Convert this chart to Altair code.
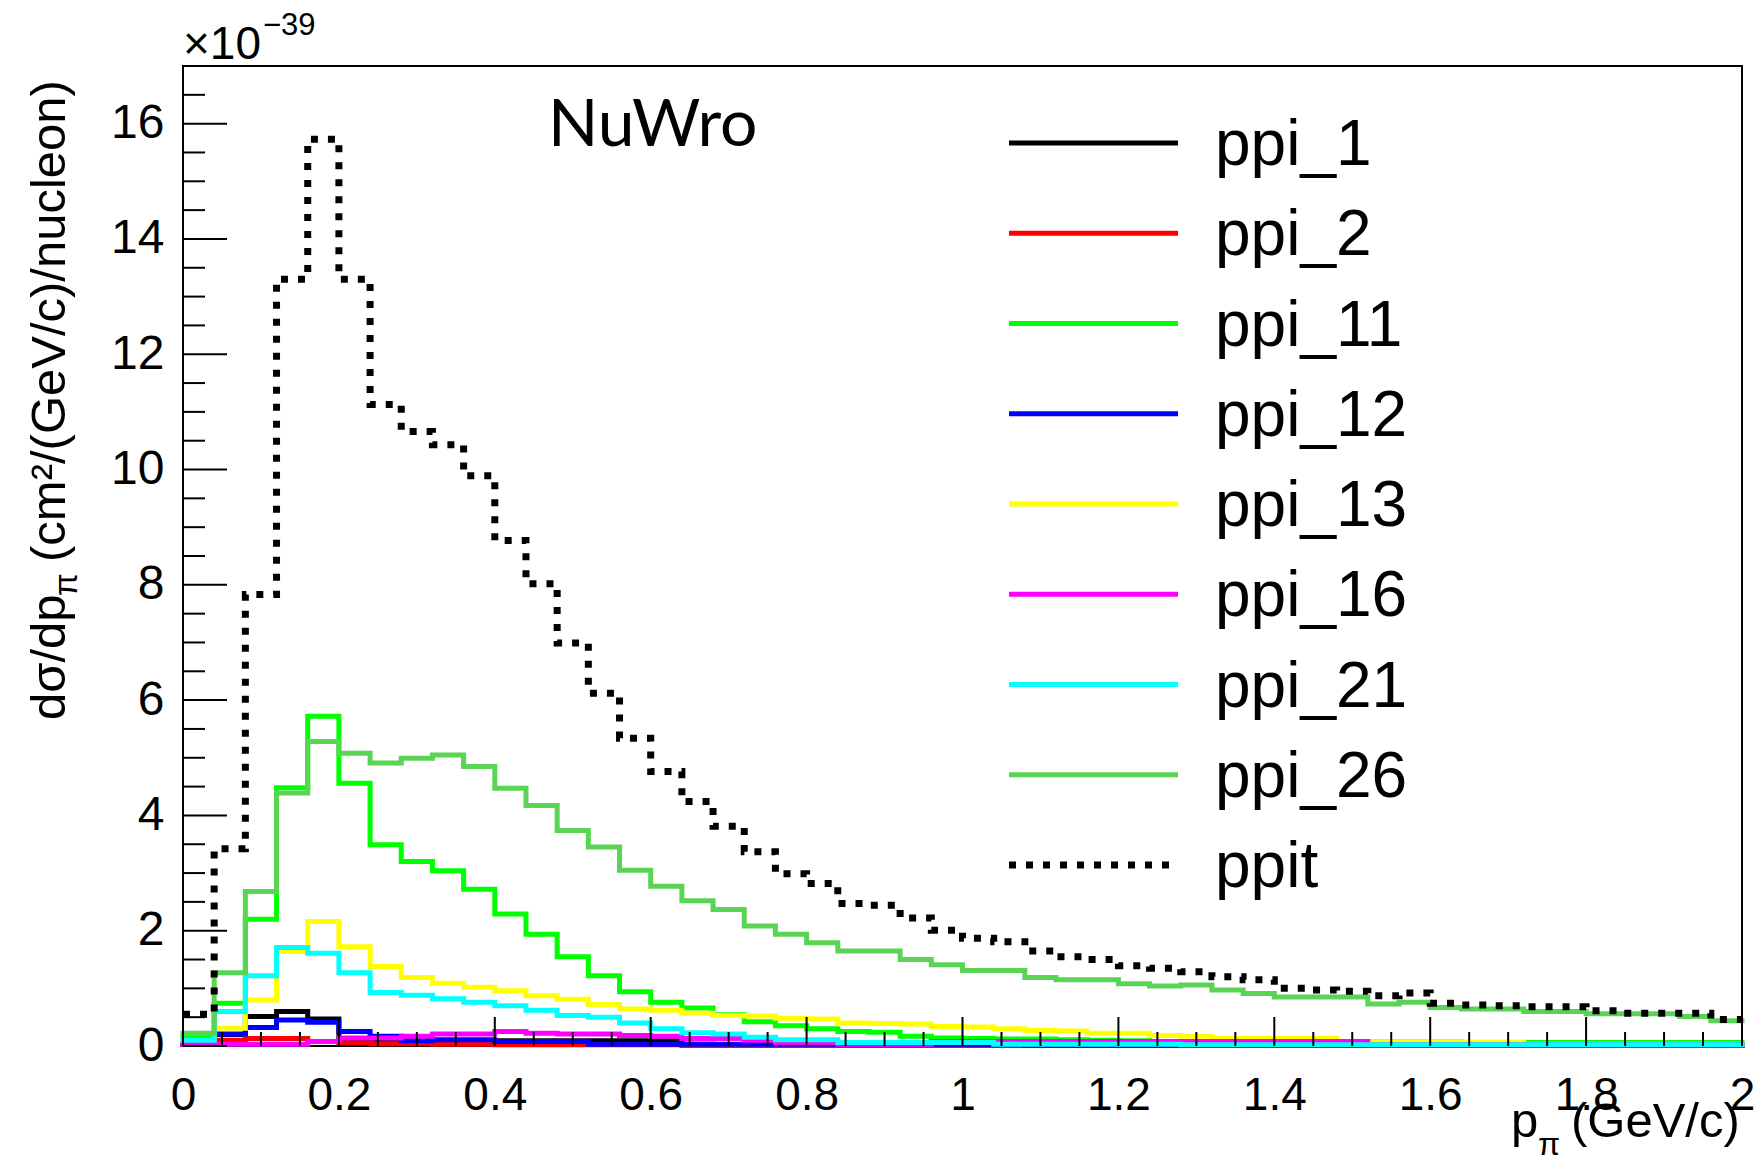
import altair as alt
import pandas as pd

# ---------------- data ----------------
BIN_W = 0.04
N_BINS = 50
edges = [round(i * BIN_W, 2) for i in range(N_BINS + 1)]

series_names = ["ppi_1", "ppi_2", "ppi_11", "ppi_12", "ppi_13", "ppi_16", "ppi_21", "ppi_26", "ppit"]
series_colors = ["#000000", "#ff0000", "#00ff00", "#0000ff", "#ffff00", "#ff00ff", "#00ffff", "#59d454", "#000000"]

ppi_1 = [0.03, 0.20, 0.51, 0.60, 0.47, 0.10, 0.10, 0.09, 0.09, 0.09, 0.09, 0.09, 0.09, 0.09, 0.09, 0.09,
         0.03, 0.02, 0.02, 0.02, 0.02, 0.01, 0.01, 0.01, 0.01, 0.01, 0.01, 0.01, 0.01, 0.01, 0.01, 0.01,
         0.01, 0.01, 0.01, 0.01, 0.01, 0.01, 0.01, 0.01, 0.01, 0.01, 0.01, 0.01, 0.01, 0.01, 0.01, 0.01, 0.01, 0.01]
ppi_2 = [0.03, 0.10, 0.13, 0.13, 0.08, 0.05, 0.04, 0.04, 0.03, 0.03, 0.02, 0.02, 0.02, 0.02, 0.02, 0.02,
         0.01, 0.01, 0.01, 0.01, 0.01, 0.01, 0.01, 0.01, 0.01, 0.01, 0.01, 0.01, 0.01, 0.01, 0.01, 0.01,
         0.01, 0.01, 0.01, 0.01, 0.01, 0.01, 0.01, 0.01, 0.01, 0.01, 0.01, 0.01, 0.01, 0.01, 0.01, 0.01, 0.01, 0.01]
ppi_11 = [0.15, 0.74, 2.20, 4.48, 5.72, 4.56, 3.49, 3.20, 3.04, 2.72, 2.29, 1.94, 1.55, 1.22, 0.94, 0.76,
          0.66, 0.54, 0.42, 0.35, 0.30, 0.25, 0.24, 0.17, 0.14, 0.13, 0.12, 0.12, 0.11, 0.10, 0.09, 0.08,
          0.08, 0.08, 0.07, 0.07, 0.07, 0.07, 0.07, 0.07, 0.07, 0.06, 0.06, 0.06, 0.06, 0.06, 0.06, 0.06, 0.06, 0.06]
ppi_12 = [0.03, 0.21, 0.32, 0.45, 0.41, 0.25, 0.17, 0.09, 0.11, 0.11, 0.08, 0.08, 0.08, 0.03, 0.03, 0.03,
          0.03, 0.03, 0.03, 0.03, 0.03, 0.03, 0.03, 0.03, 0.03, 0.03, 0.02, 0.01, 0.01, 0.01, 0.01, 0.01,
          0.01, 0.01, 0.01, 0.01, 0.01, 0.01, 0.01, 0.01, 0.01, 0.01, 0.01, 0.01, 0.01, 0.01, 0.01, 0.01, 0.01, 0.01]
ppi_13 = [0.08, 0.31, 0.80, 1.64, 2.16, 1.72, 1.38, 1.19, 1.09, 1.02, 0.96, 0.87, 0.81, 0.72, 0.64, 0.62,
          0.57, 0.53, 0.52, 0.48, 0.47, 0.40, 0.39, 0.38, 0.34, 0.33, 0.30, 0.27, 0.26, 0.22, 0.22, 0.18,
          0.17, 0.13, 0.13, 0.13, 0.13, 0.07, 0.07, 0.07, 0.07, 0.07, 0.07, 0.03, 0.03, 0.03, 0.03, 0.03, 0.03, 0.03]
ppi_16 = [0.03, 0.03, 0.03, 0.03, 0.08, 0.14, 0.14, 0.17, 0.21, 0.21, 0.25, 0.22, 0.21, 0.21, 0.18, 0.17,
          0.13, 0.13, 0.10, 0.06, 0.06, 0.03, 0.03, 0.03, 0.08, 0.08, 0.08, 0.08, 0.08, 0.08, 0.08, 0.08,
          0.08, 0.08, 0.08, 0.08, 0.08, 0.08, 0.02, 0.02, 0.02, 0.02, 0.02, 0.02, 0.02, 0.02, 0.02, 0.02, 0.02, 0.02]
ppi_21 = [0.10, 0.60, 1.22, 1.71, 1.61, 1.27, 0.93, 0.88, 0.82, 0.76, 0.70, 0.62, 0.53, 0.50, 0.40, 0.30,
          0.23, 0.21, 0.15, 0.11, 0.11, 0.06, 0.06, 0.06, 0.06, 0.06, 0.03, 0.03, 0.03, 0.03, 0.03, 0.03,
          0.02, 0.02, 0.02, 0.02, 0.02, 0.02, 0.02, 0.02, 0.02, 0.02, 0.02, 0.02, 0.02, 0.02, 0.02, 0.02, 0.02, 0.02]
ppi_26 = [0.22, 1.27, 2.68, 4.39, 5.28, 5.08, 4.91, 4.99, 5.05, 4.85, 4.47, 4.17, 3.74, 3.45, 3.05, 2.77,
          2.52, 2.37, 2.08, 1.94, 1.79, 1.65, 1.65, 1.50, 1.41, 1.31, 1.31, 1.19, 1.15, 1.15, 1.08, 1.04,
          1.06, 0.97, 0.91, 0.85, 0.85, 0.85, 0.73, 0.76, 0.67, 0.64, 0.64, 0.60, 0.60, 0.56, 0.56, 0.56, 0.51, 0.44]
ppit = [0.55, 3.42, 7.83, 13.30, 15.73, 13.30, 11.13, 10.66, 10.43, 9.89, 8.77, 8.02, 6.99, 6.12, 5.34, 4.76,
        4.24, 3.81, 3.37, 2.99, 2.82, 2.47, 2.44, 2.22, 2.01, 1.87, 1.81, 1.65, 1.55, 1.50, 1.39, 1.35,
        1.29, 1.20, 1.15, 1.00, 0.97, 0.95, 0.87, 0.92, 0.74, 0.71, 0.70, 0.68, 0.68, 0.61, 0.57, 0.57, 0.57, 0.46]

series_values = [ppi_1, ppi_2, ppi_11, ppi_12, ppi_13, ppi_16, ppi_21, ppi_26, ppit]

x_tick_labels = [0, 0.2, 0.4, 0.6, 0.8, 1, 1.2, 1.4, 1.6, 1.8, 2]
y_tick_labels = [0, 2, 4, 6, 8, 10, 12, 14, 16]

# ---------------- geometry / style ----------------
W, H = 1559, 980
XMAX, YMAX = 2.0, 17.0
FONT = "Liberation Sans"

xscale = alt.Scale(domain=[0, XMAX], nice=False, zero=False)
yscale = alt.Scale(domain=[0, YMAX], nice=False, zero=True)

xaxis = alt.Axis(values=x_tick_labels, format="~g", labelFont=FONT, labelFontSize=46,
                 labelColor="black", labelPadding=27, ticks=False, tickSize=0, domain=False,
                 grid=False, labelFlush=False, labelOverlap=False, labelBound=False,
                 labelBaseline="top", title=None)
yaxis = alt.Axis(values=y_tick_labels, format="d", labelFont=FONT, labelFontSize=48,
                 labelColor="black", labelPadding=19, ticks=False, tickSize=0, domain=False,
                 grid=False, labelOverlap=False, labelBaseline="middle", title=None)

X = alt.X("x:Q", scale=xscale, axis=xaxis)
Y = alt.Y("v:Q", scale=yscale, axis=yaxis)

layers = []

# histogram outlines
for name, color, vals in zip(series_names, series_colors, series_values):
    df = pd.DataFrame({"x": edges, "v": list(vals) + [vals[-1]], "series": name})
    if name == "ppit":
        m = alt.Chart(df).mark_line(interpolate="step-after", color=color, strokeWidth=7,
                                    strokeDash=[7, 10], strokeCap="butt")
    else:
        m = alt.Chart(df).mark_line(interpolate="step-after", color=color, strokeWidth=5,
                                    strokeCap="square")
    layers.append(m.encode(x=X, y=Y))

# inward ticks (ROOT style)
y_major = [float(v) for v in range(0, 17, 2)]
y_minor = [i * 0.5 for i in range(0, 35) if (i * 0.5) % 2 != 0]
x_major = [round(i * 0.2, 2) for i in range(0, 11)]
x_minor = [round(i * 0.05, 2) for i in range(0, 41) if i % 4 != 0]

layers.append(alt.Chart(pd.DataFrame({"v": y_major})).mark_rule(color="black", strokeWidth=2)
              .encode(y=Y, x=alt.value(0), x2=alt.value(44)))
layers.append(alt.Chart(pd.DataFrame({"v": y_minor})).mark_rule(color="black", strokeWidth=2)
              .encode(y=Y, x=alt.value(0), x2=alt.value(22)))
layers.append(alt.Chart(pd.DataFrame({"x": x_major})).mark_rule(color="black", strokeWidth=2)
              .encode(x=X, y=alt.value(H), y2=alt.value(H - 29)))
layers.append(alt.Chart(pd.DataFrame({"x": x_minor})).mark_rule(color="black", strokeWidth=2)
              .encode(x=X, y=alt.value(H), y2=alt.value(H - 14)))

dummy = pd.DataFrame({"a": [0]})


def label(text, x, y, size, font=FONT, align="left", baseline="alphabetic", angle=0):
    kw = dict(text=text, font=font, fontSize=size, align=align, baseline=baseline, color="black")
    if angle:
        kw["angle"] = angle
    return alt.Chart(dummy).mark_text(**kw).encode(x=alt.value(x), y=alt.value(y))


# exponent label
layers.append(label("\u00d710", 0, -7, 46))
layers.append(label("\u221239", 80, -31, 31))

# NuWro
layers.append(label("NuWro", 365, 80, 66, font="Lato"))

# legend
row0, drow = 143 - 66, 90.25
for i, (name, color) in enumerate(zip(series_names, series_colors)):
    ry = row0 + i * drow
    if name == "ppit":
        r = alt.Chart(dummy).mark_rule(color=color, strokeWidth=7, strokeDash=[7, 10], strokeCap="butt")
    else:
        r = alt.Chart(dummy).mark_rule(color=color, strokeWidth=5)
    layers.append(r.encode(x=alt.value(826), x2=alt.value(995), y=alt.value(ry)))
    layers.append(label(name, 1032, ry + 22, 64))

# y-axis title (rotated)
ty0 = 720 - 66
tx = 65 - 183
layers.append(label("d\u03c3/dp", tx, ty0, 49, angle=270))
layers.append(label("\u03c0", tx + 12, ty0 - 124, 33, angle=270))
layers.append(label("(cm\u00b2/(GeV/c)/nucleon)", tx, ty0 - 158, 49, angle=270))

# x-axis title
bx = 1511 - 183
by = 1137 - 66
layers.append(label("p", bx, by, 49))
layers.append(label("\u03c0", bx + 27, by + 18, 32))
layers.append(label("(GeV/c)", bx + 60, by, 49))

chart = alt.layer(*layers).properties(
    width=W, height=H,
    padding={"left": 175, "top": 58, "right": 14, "bottom": 109},
    autosize=alt.AutoSizeParams(type="none"),
    background="white",
).configure_view(stroke="black", strokeWidth=2)

chart.save("out.html", embed_options={"renderer": "svg", "actions": False})
